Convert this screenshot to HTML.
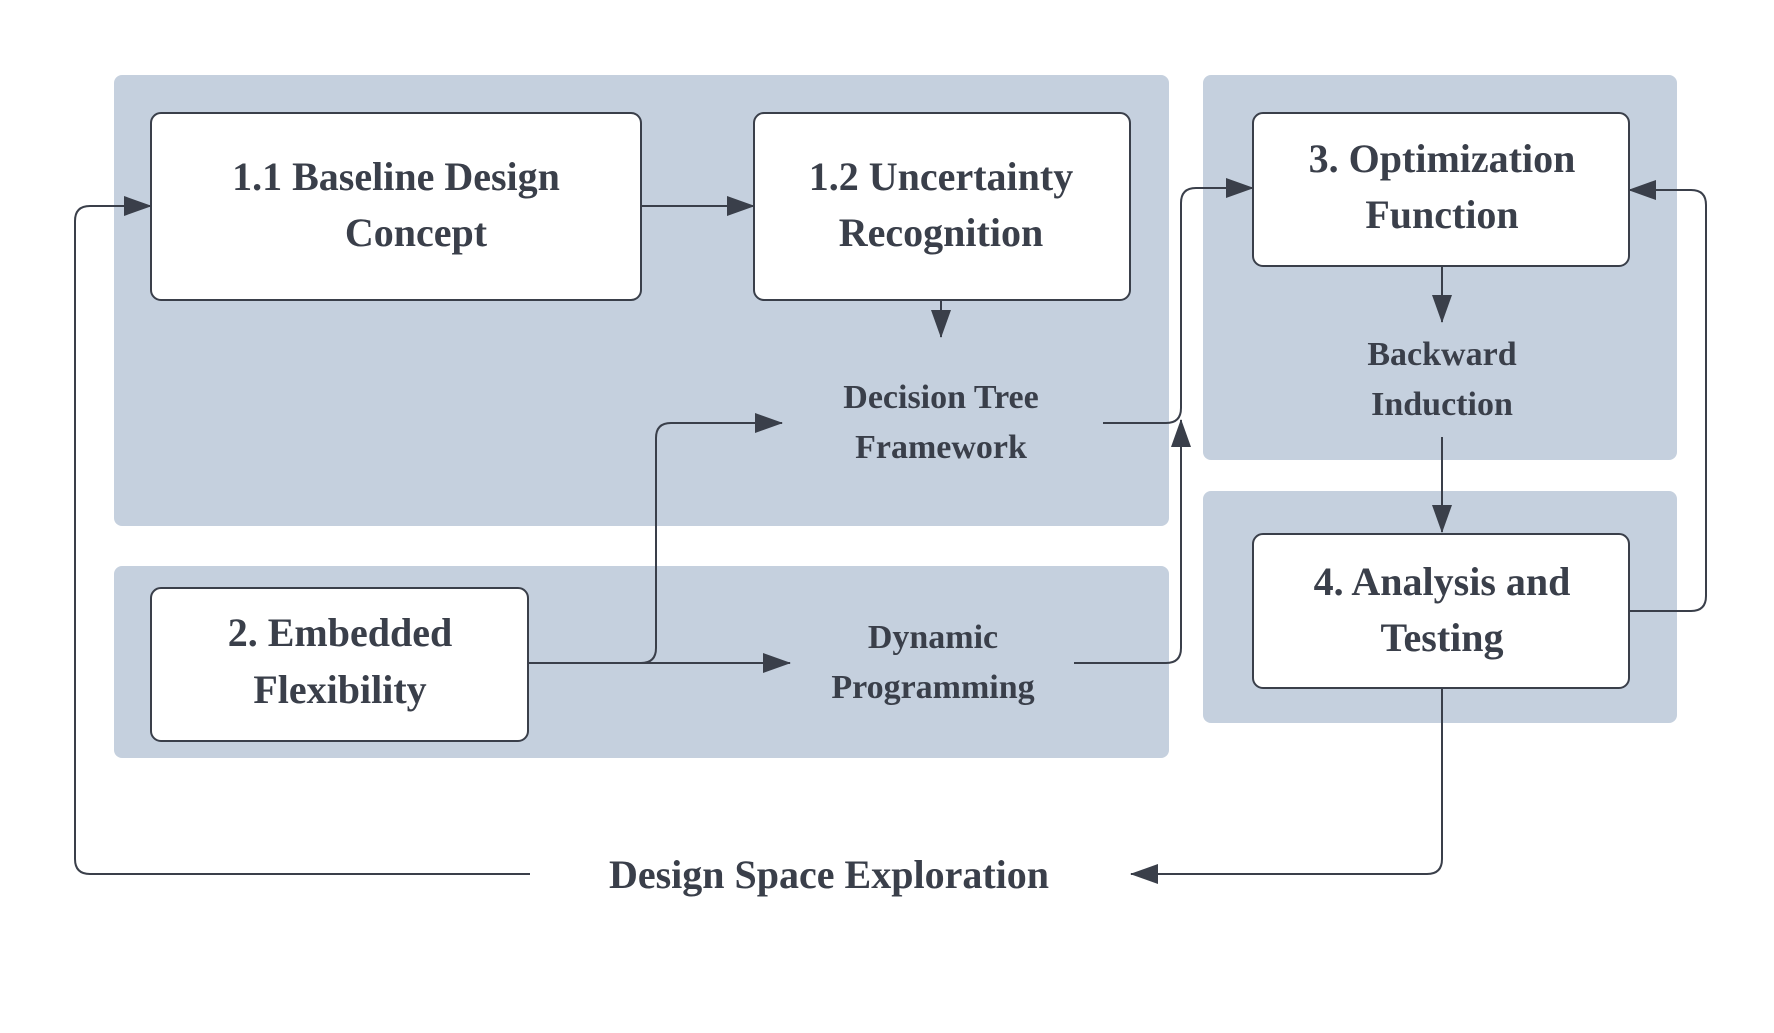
<!DOCTYPE html>
<html><head><meta charset="utf-8"><style>
html,body{margin:0;padding:0;background:#fff;}
svg{display:block;}
text{font-family:"Liberation Serif",serif;font-weight:bold;fill:#3a3f4a;text-anchor:middle;}
</style></head><body>
<svg width="1774" height="1033" viewBox="0 0 1774 1033" xmlns="http://www.w3.org/2000/svg">
<defs><marker id="a" markerWidth="10" markerHeight="10" refX="9" refY="5" orient="auto" markerUnits="userSpaceOnUse" viewBox="0 0 10 10"><path d="M0,0 L10,5 L0,10 z" fill="#3a3f4a"/></marker>
<marker id="b" markerWidth="28" markerHeight="24" refX="27" refY="12" orient="auto" markerUnits="userSpaceOnUse"><path d="M0,2 L28,12 L0,22 z" fill="#3a3f4a"/></marker></defs>
<g fill="#c5d0de">
<rect x="114" y="75" width="1055" height="451" rx="8"/>
<rect x="114" y="566" width="1055" height="192" rx="8"/>
<rect x="1203" y="75" width="474" height="385" rx="8"/>
<rect x="1203" y="491" width="474" height="232" rx="8"/>
</g>
<g fill="#fff" stroke="#3a3f4a" stroke-width="2">
<rect x="151" y="113" width="490" height="187" rx="10"/>
<rect x="754" y="113" width="376" height="187" rx="10"/>
<rect x="1253" y="113" width="376" height="153" rx="10"/>
<rect x="1253" y="534" width="376" height="154" rx="10"/>
<rect x="151" y="588" width="377" height="153" rx="10"/>
</g>
<g fill="none" stroke="#3a3f4a" stroke-width="2" marker-end="url(#b)">
<path d="M641,206 H754"/>
<path d="M941,300 V337"/>
<path d="M1103,423 H1166 Q1181,423 1181,408 V203 Q1181,188 1196,188 H1253"/>
<path d="M528,663 H641 Q656,663 656,648 V438 Q656,423 671,423 H782"/>
<path d="M528,663 H790"/>
<path d="M1074,663 H1166 Q1181,663 1181,648 V420"/>
<path d="M1442,266 V322"/>
<path d="M1442,437 V532"/>
<path d="M1629,611 H1691 Q1706,611 1706,596 V205 Q1706,190 1691,190 H1629"/>
<path d="M1442,688 V859 Q1442,874 1427,874 H1131"/>
<path d="M530,874 H90 Q75,874 75,859 V221 Q75,206 90,206 H151"/>
</g>
<g font-size="40">
<text x="396" y="190">1.1 Baseline Design</text>
<text x="416" y="246">Concept</text>
<text x="941" y="190">1.2 Uncertainty</text>
<text x="941" y="246">Recognition</text>
<text x="1442" y="172">3. Optimization</text>
<text x="1442" y="228">Function</text>
<text x="1442" y="595">4. Analysis and</text>
<text x="1442" y="651">Testing</text>
<text x="340" y="646">2. Embedded</text>
<text x="340" y="703">Flexibility</text>
<text x="829" y="888">Design Space Exploration</text>
</g>
<g font-size="34">
<text x="941" y="408">Decision Tree</text>
<text x="941" y="458">Framework</text>
<text x="933" y="648">Dynamic</text>
<text x="933" y="698">Programming</text>
<text x="1442" y="365">Backward</text>
<text x="1442" y="415">Induction</text>
</g>
</svg>
</body></html>
